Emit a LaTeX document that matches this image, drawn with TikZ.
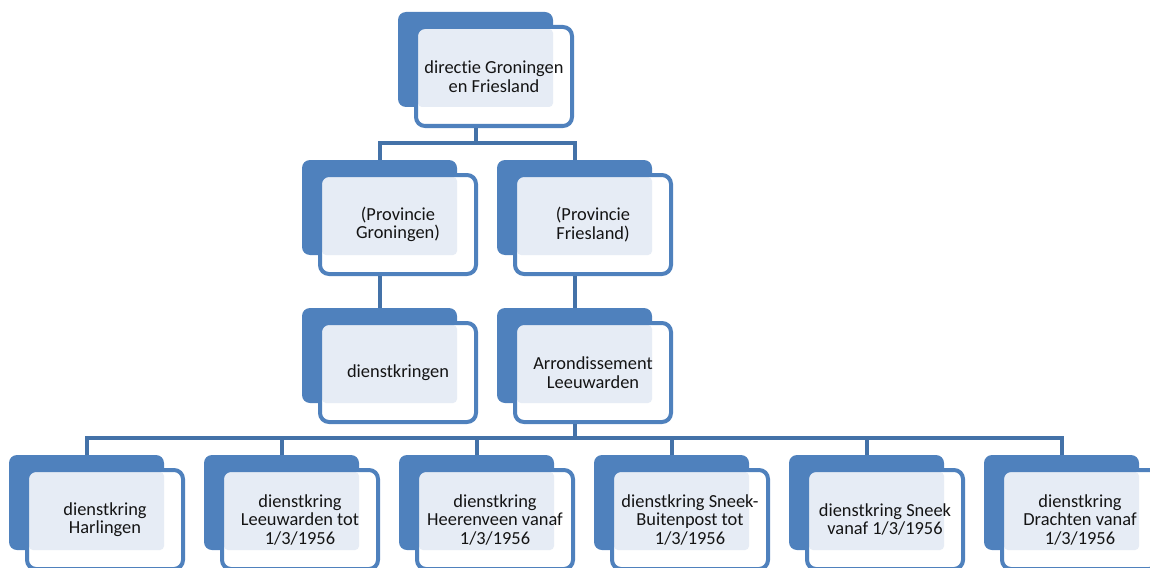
\documentclass[tikz,border=0pt]{standalone}
\usepackage{fontspec}
\setmainfont{Carlito}[Ligatures={NoCommon}]
\usepackage{tikz}
\usetikzlibrary{positioning}

\definecolor{unitblue}{RGB}{79,129,189}
\definecolor{linkblue}{RGB}{68,114,168}
\definecolor{dotblue}{RGB}{230,236,245}

\tikzset{
    back/.style={fill=unitblue, rounded corners=8pt, minimum width=155pt,
        minimum height=95pt, inner sep=0pt},
    front/.style={draw=unitblue, line width=4pt, fill=white, rounded corners=9pt,
        minimum width=156pt, minimum height=99pt, inner sep=0pt, align=center,
        text=black!92, font=\fontsize{18.4}{18.5}\selectfont,
        path picture={\fill[dotblue, rounded corners=4pt]
            ([xshift=2pt,yshift=-2pt]path picture bounding box.north west) rectangle
            ([xshift=-19pt,yshift=19pt]path picture bounding box.south east);}},
    conn/.style={draw=linkblue, line width=4pt}
}

\begin{document}
\begin{tikzpicture}[x=1pt, y=-1pt]
    \useasboundingbox (0,0) rectangle (1150,567);
    \clip (0,0) rectangle (1150,567);

    % directie
    \node[back] (top-b) at (475.5,59.5) {};
    \node[front] (top) at (494,76.5) {directie Groningen\\en Friesland};

    % provincies
    \node[back] (prg-b) at (379.5,207.5) {};
    \node[front] (prg) at (398,224.5) {(Provincie\\Groningen)};
    \node[back] (prf-b) at (574.5,207.5) {};
    \node[front] (prf) at (593,224.5) {(Provincie\\Friesland)};

    % onder de provincies
    \node[back] (dkr-b) at (379.5,355.5) {};
    \node[front] (dkr) at (398,372.5) {dienstkringen};
    \node[back] (arr-b) at (574.5,355.5) {};
    \node[front] (arr) at (593,372.5) {Arrondissement\\Leeuwarden};

    % dienstkringen Leeuwarden
    \foreach \i/\txt in {0/{dienstkring\\Harlingen},
                         1/{dienstkring\\Leeuwarden tot\\1/3/1956},
                         2/{dienstkring\\Heerenveen vanaf\\1/3/1956},
                         3/{dienstkring Sneek-\\Buitenpost tot\\1/3/1956},
                         4/{dienstkring Sneek\\vanaf 1/3/1956},
                         5/{dienstkring\\Drachten vanaf\\1/3/1956}} {
        \node[back] (d\i-b) at (86.5+195*\i,502.5) {};
        \node[front] (d\i) at (105+195*\i,519.5) {\txt};
    }

    % verbindingen
    \coordinate (bus1) at (0,143);
    \coordinate (bus3) at (0,438);
    \draw[conn] (top-b |- top.south) -- (top-b |- bus1);
    \draw[conn] (prg-b.north) |- (prf-b |- bus1) -- (prf-b.north);
    \draw[conn] (prg-b |- prg.south) -- (dkr-b.north);
    \draw[conn] (prf-b |- prf.south) -- (arr-b.north);
    \draw[conn] (arr-b |- arr.south) -- (arr-b |- bus3);
    \draw[conn] (d0-b.north) |- (d5-b |- bus3) -- (d5-b.north);
    \foreach \i in {1,...,4}
        \draw[conn] (d\i-b |- bus3) -- (d\i-b.north);

\end{tikzpicture}
\end{document}
